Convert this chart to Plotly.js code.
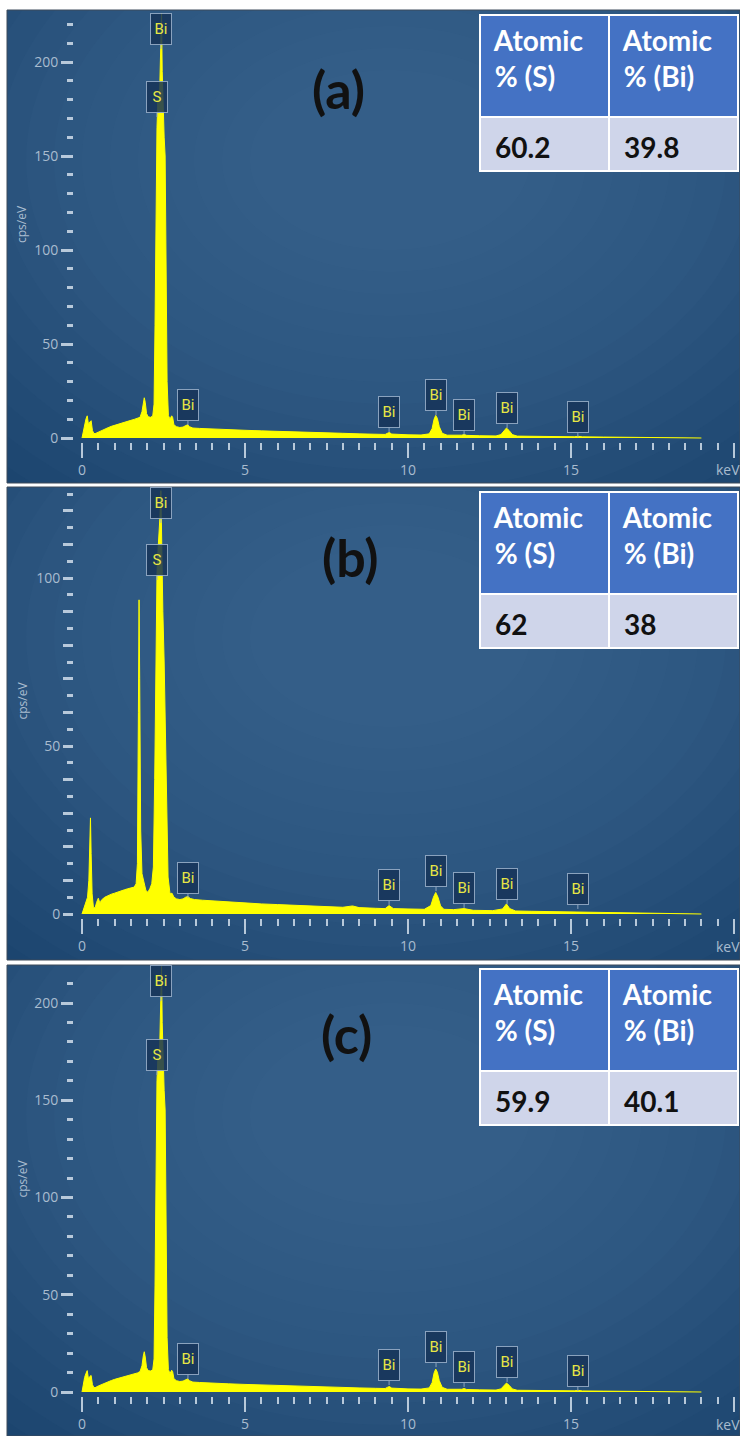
<!DOCTYPE html>
<html><head><meta charset="utf-8">
<script src="https://cdn.plot.ly/plotly-3.0.1.min.js"></script>
<style>html,body{margin:0;padding:0;background:#fff}</style>
</head><body><div id="chart" style="width:740px;height:1436px"></div>
<script>
// ---------------- DATA ----------------
const energyA = [0,0.04,0.08,0.12,0.16,0.2,0.24,0.28,0.32,0.36,0.4,0.5,0.6,0.7,0.8,0.9,1.0,1.1,1.2,1.3,1.4,1.5,1.6,1.7,1.78,1.84,1.88,1.91,1.94,1.98,2.03,2.1,2.17,2.21,2.24,2.27,2.3,2.33,2.36,2.39,2.42,2.44,2.46,2.49,2.52,2.55,2.58,2.61,2.65,2.7,2.75,2.78,2.82,2.9,3.0,3.1,3.18,3.24,3.3,3.4,3.6,4.0,4.5,5.0,5.5,6.0,6.5,7.0,7.5,8.0,8.5,9.0,9.3,9.38,9.43,9.5,9.7,10.0,10.4,10.65,10.74,10.8,10.85,10.9,10.96,11.05,11.2,11.5,11.65,11.72,11.8,12.2,12.7,12.85,12.95,13.02,13.1,13.2,13.35,13.7,14.2,14.8,15.1,15.22,15.35,16.0,17.0,18.0,18.6,19.0];
const countsA = [0,4,8,10,11.8,7,8.5,9.2,4,2.5,2.3,3.2,4,4.8,5.5,6.2,6.8,7.3,7.9,8.4,8.9,9.4,9.9,10.4,11,14,19,21.4,19,13,11.3,11,11.7,18,60,120,165,180,172,190,205,226,195,172,160,150,100,30,12,10,11.8,11,7,6,5.6,5.8,6.6,7,6,5.3,5.1,4.7,4.4,4.1,3.8,3.6,3.4,3.1,2.8,2.5,2.2,2.0,1.9,2.6,2.9,2.1,1.8,1.7,1.6,2.2,5,10,12,10.5,6,2.5,1.5,1.4,1.5,1.9,1.4,1.2,1.1,1.8,4.2,5.3,4,1.8,1.0,0.9,0.8,0.7,0.65,0.9,0.6,0.5,0.4,0.3,0.15,0];

const energyB = [0,0.06,0.12,0.17,0.21,0.24,0.26,0.28,0.31,0.35,0.4,0.45,0.5,0.55,0.6,0.7,0.8,0.9,1.0,1.1,1.2,1.3,1.4,1.5,1.6,1.66,1.7,1.73,1.75,1.77,1.8,1.84,1.9,1.96,2.02,2.08,2.14,2.19,2.23,2.27,2.3,2.33,2.36,2.39,2.42,2.45,2.48,2.52,2.56,2.6,2.64,2.7,2.76,2.82,2.9,3.0,3.1,3.18,3.25,3.32,3.45,3.7,4.0,4.5,5,5.5,6,6.5,7,7.5,8,8.3,8.5,9,9.3,9.42,9.55,10,10.5,10.7,10.78,10.85,10.92,11.0,11.1,11.4,11.72,12,12.6,12.9,13.02,13.12,13.3,13.8,14.5,15.2,15.4,16,17,18,18.6,19];
const countsB = [0,2,4,5,10,22,28.6,18,6,2,1.8,3.5,4.7,3.2,4.2,5,5.5,5.9,6.2,6.6,6.9,7.2,7.5,7.7,8,9,15,60,93.5,70,25,12,9,7,6.5,7.5,9,14,40,90,101,108,112,118,126,100,90,75,50,25,11,6,6.2,5,4.5,4.3,4.5,5,5.2,4.6,4.3,4.1,3.9,3.6,3.3,3.0,2.8,2.6,2.4,2.2,2.0,2.4,1.9,1.7,1.6,2.5,1.6,1.5,1.4,2.5,5,6.4,5,2.4,1.4,1.3,1.6,1.1,1.0,1.5,3,1.6,0.9,0.8,0.7,0.75,0.5,0.45,0.35,0.25,0.15,0];

const energyC = [0,0.04,0.08,0.12,0.16,0.2,0.24,0.28,0.32,0.36,0.4,0.5,0.6,0.7,0.8,0.9,1.0,1.1,1.2,1.3,1.4,1.5,1.6,1.7,1.78,1.84,1.88,1.91,1.94,1.98,2.03,2.1,2.17,2.21,2.24,2.27,2.3,2.33,2.36,2.39,2.42,2.44,2.46,2.49,2.52,2.55,2.58,2.61,2.65,2.7,2.75,2.78,2.82,2.9,3.0,3.1,3.18,3.24,3.3,3.4,3.6,4.0,4.5,5.0,5.5,6.0,6.5,7.0,7.5,8.0,8.5,9.0,9.3,9.38,9.43,9.5,9.7,10.0,10.4,10.65,10.74,10.8,10.85,10.9,10.96,11.05,11.2,11.5,11.65,11.72,11.8,12.2,12.7,12.85,12.95,13.02,13.1,13.2,13.35,13.7,14.2,14.8,15.1,15.22,15.35,16.0,17.0,18.0,18.6,19.0];
const countsC = [0,4,7.5,9.5,11,6.5,8,8.5,3.8,2.4,2.2,3.1,3.9,4.6,5.3,5.9,6.5,7,7.5,7.9,8.3,8.7,9.2,9.8,10.5,13.5,18.5,20.7,18,12.5,11,10.8,11.4,17,55,115,160,172,168,182,198,219,190,168,155,145,95,28,11.5,9.5,11.2,10.5,6.8,5.8,5.4,5.6,6.3,6.7,5.8,5.1,4.9,4.5,4.2,3.9,3.6,3.4,3.2,2.9,2.6,2.3,2.1,1.9,1.8,2.5,2.8,2.0,1.7,1.6,1.5,2.1,4.8,9.8,11.8,10.2,5.8,2.4,1.4,1.3,1.4,1.8,1.3,1.1,1.0,1.6,3.6,4.6,3.5,1.6,0.9,0.8,0.7,0.6,0.6,0.85,0.55,0.45,0.35,0.25,0.12,0];

const peakText = ['Bi','S','Bi','Bi','Bi','Bi','Bi','Bi'];
const peakEnergy = [2.42,2.30,3.25,9.42,10.86,11.72,13.04,15.21];
const peakTipA = [207,170.7,6.9,3.2,12.2,1.6,5.3,0.5];
const peakTipB = [116.4,99.4,4.8,2.7,6.8,1.8,3.0,1.5];
const peakTipC = [201,163,6.7,3.6,12.8,2.6,5.1,0.5];

const panelLabels = ['(a)','(b)','(c)'];
const tableHeader = ['Atomic<br>% (S)','Atomic<br>% (Bi)'];
const atomicS = ['60.2','62','59.9'];
const atomicBi = ['39.8','38','40.1'];

const xTickVals = [0,5,10,15,20];
const xTickText = ['0','5','10','15',''];
const yTickValsA = [0,50,100,150,200];
const yTickValsB = [0,10,20,30,40,50,60,70,80,90,100,110,120];
const yTickTextB = ['0','','','','','50','','','','','100','',''];
const yTickValsC = [0,50,100,150,200];

// ---------------- LAYOUT HELPERS ----------------
const W = 740, H = 1436;
const px = p => p / W;
const py = p => 1 - p / H;
const X0PIX = 82, PPK = 32.6;   // keV -> pixel
const xRange = [(7 - X0PIX) / PPK, (W - X0PIX) / PPK];

const panels = [
  {top: 10,  bottom: 483,  zero: 438,  ppu: 1.88,  tickY: 442,  titleX: 338, titleY: 89,  tableTop: 15},
  {top: 487, bottom: 960,  zero: 914,  ppu: 3.36,  tickY: 918,  titleX: 350, titleY: 557, tableTop: 492},
  {top: 965, bottom: 1436, zero: 1392, ppu: 1.945, tickY: 1396, titleX: 346, titleY: 1034, tableTop: 969}
];
const energies = [energyA, energyB, energyC];
const counts = [countsA, countsB, countsC];
const tips = [peakTipA, peakTipB, peakTipC];

const xMinor = [];
for (let v = 0.5; v < 20; v += 0.5) if (Math.abs(v % 5) > 1e-9) xMinor.push(+v.toFixed(1));
function minorY(step, max, skip) {
  const out = [];
  for (let v = step; v <= max; v += step) if (v % skip !== 0) out.push(v);
  return out;
}
const yMinor = [minorY(10, 220, 50), minorY(5, 125, 10), minorY(10, 210, 50)];
const yTicks = [
  {vals: yTickValsA, text: yTickValsA.map(String), len: 12},
  {vals: yTickValsB, text: yTickTextB, len: 10},
  {vals: yTickValsC, text: yTickValsC.map(String), len: 12}
];

const tickColor = 'rgba(200,214,228,0.9)';
const labelColor = '#a9bccf';
const tickFont = {family: 'Open Sans, sans-serif', size: 14, color: labelColor};
const HEADER_H = 102, CELL_H = 54;

const data = [];
const layout = {
  width: W, height: H, margin: {l: 0, r: 0, t: 0, b: 0},
  paper_bgcolor: '#ffffff', plot_bgcolor: '#1c456f', showlegend: false,
  shapes: [], annotations: []
};

panels.forEach((p, i) => {
  const s = i === 0 ? '' : String(i + 1);
  const yr = [(p.zero - p.bottom) / p.ppu, (p.zero - p.top) / p.ppu];
  layout['xaxis' + s] = {
    domain: [px(7), 1], range: xRange, anchor: 'free', position: py(p.tickY),
    showgrid: false, zeroline: false, showline: false, fixedrange: true,
    ticks: 'outside', ticklen: 15, tickwidth: 2, tickcolor: tickColor,
    tickmode: 'array', tickvals: xTickVals, ticktext: xTickText, tickfont: tickFont,
    minor: {tickmode: 'array', tickvals: xMinor, ticks: 'outside', ticklen: 7, tickwidth: 2, tickcolor: tickColor}
  };
  layout['yaxis' + s] = {
    domain: [py(p.bottom), py(p.top)], range: yr, anchor: 'free', position: px(73),
    showgrid: false, zeroline: false, showline: false, fixedrange: true,
    ticks: 'outside', ticklen: yTicks[i].len, tickwidth: 3, tickcolor: tickColor,
    tickmode: 'array', tickvals: yTicks[i].vals, ticktext: yTicks[i].text, tickfont: tickFont,
    minor: {tickmode: 'array', tickvals: yMinor[i], ticks: 'outside', ticklen: 6, tickwidth: 3, tickcolor: tickColor}
  };

  // spectrum
  data.push({
    type: 'scatter', mode: 'lines', x: energies[i], y: counts[i],
    xaxis: 'x' + s, yaxis: 'y' + s, fill: 'tozeroy', fillcolor: '#ffff00',
    line: {color: '#ffff00', width: 1}, hoverinfo: 'skip'
  });

  // soft vignette (background styling only)
  const toX = pix => (pix - X0PIX) / PPK;
  const toY = pix => (p.zero - pix) / p.ppu;
  for (let k = 0; k < 16; k++) {
    const rx = 560 - k * 28, ry = 420 - k * 22, cx = 390, cy = p.top + 150;
    layout.shapes.push({
      type: 'circle', xref: 'x' + s, yref: 'y' + s, layer: 'below',
      x0: toX(cx - rx), x1: toX(cx + rx), y0: toY(cy + ry), y1: toY(cy - ry),
      fillcolor: 'rgba(120,165,210,0.022)', line: {width: 0}
    });
  }
  // panel frame
  layout.shapes.push({
    type: 'rect', xref: 'paper', yref: 'paper', layer: 'above',
    x0: px(7), x1: 1, y0: py(p.bottom), y1: py(p.top),
    line: {color: '#3c4b5a', width: 1}, fillcolor: 'rgba(0,0,0,0)'
  });

  // peak labels
  peakEnergy.forEach((e, j) => {
    layout.annotations.push({
      xref: 'x' + s, yref: 'y' + s, x: e, y: tips[i][j], text: peakText[j],
      showarrow: true, arrowhead: 0, arrowwidth: 1, arrowcolor: 'rgba(150,172,198,0.9)',
      ax: 0, ay: -20, standoff: 0,
      font: {family: 'Roboto, sans-serif', size: 15, color: '#e6e645'},
      bgcolor: 'rgba(22,52,88,0.85)', bordercolor: 'rgba(150,172,198,0.9)',
      borderwidth: 1, borderpad: 3, width: 14, height: 24
    });
  });

  // panel title
  layout.annotations.push({
    xref: 'paper', yref: 'paper', x: px(p.titleX), y: py(p.titleY),
    xanchor: 'center', yanchor: 'middle', showarrow: false, text: panelLabels[i],
    font: {family: 'Lato, sans-serif', size: 52, color: '#111111', weight: 'bold'}
  });
  // y-axis title
  layout.annotations.push({
    xref: 'paper', yref: 'paper', x: px(22), y: py((p.top + p.zero) / 2),
    xanchor: 'center', yanchor: 'middle', showarrow: false, text: 'cps/eV', textangle: -90,
    font: {family: 'Open Sans, sans-serif', size: 12, color: labelColor}
  });
  // x unit label
  layout.annotations.push({
    xref: 'paper', yref: 'paper', x: px(728), y: py(p.tickY + 28),
    xanchor: 'center', yanchor: 'middle', showarrow: false, text: 'keV',
    font: tickFont
  });

  // atomic % table (cells drawn by the table trace)
  data.push({
    type: 'table',
    domain: {x: [px(480), px(738)], y: [py(p.tableTop + HEADER_H + CELL_H + 8), py(p.tableTop)]},
    columnwidth: [1, 1],
    header: {
      values: tableHeader.map(t => '\u00a0' + t.replace('<br>', '<br>\u00a0')),
      fill: {color: '#4472c4'}, line: {color: '#ffffff', width: 2},
      font: {family: 'Lato, sans-serif', size: 28, color: '#ffffff', weight: 'bold'},
      align: 'left', height: HEADER_H
    },
    cells: {
      values: [[''], ['']],
      fill: {color: '#cfd5ea'}, line: {color: '#ffffff', width: 2},
      font: {family: 'Lato, sans-serif', size: 28, color: '#111111', weight: 'bold'},
      align: 'left', height: CELL_H
    }
  });
  // table cell values, vertically centred in the value row
  [atomicS[i], atomicBi[i]].forEach((v, c) => {
    layout.annotations.push({
      xref: 'paper', yref: 'paper', x: px(493 + c * 129), y: py(p.tableTop + HEADER_H + CELL_H / 2 + 3),
      xanchor: 'left', yanchor: 'middle', showarrow: false, text: v,
      font: {family: 'Lato, sans-serif', size: 28, color: '#111111', weight: 'bold'}
    });
  });
});

Plotly.newPlot('chart', data, layout, {displayModeBar: false, staticPlot: true});
</script></body></html>
